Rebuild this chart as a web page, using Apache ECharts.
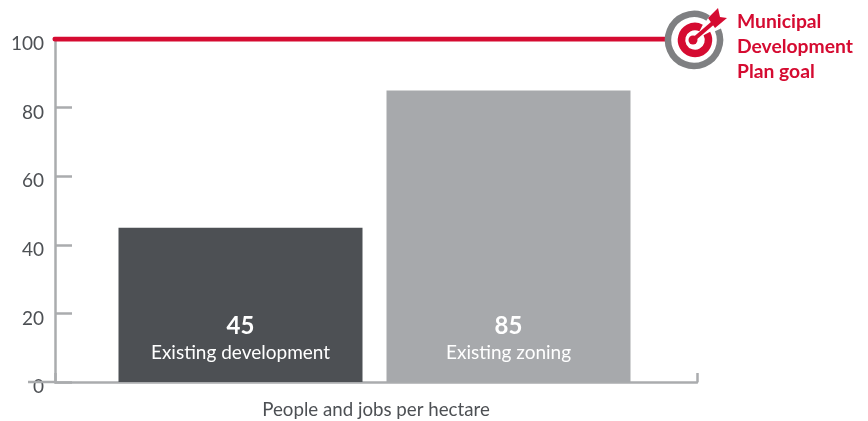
<!DOCTYPE html>
<html>
<head>
<meta charset="utf-8">
<style>html,body{margin:0;padding:0;background:#fff}#chart{width:868px;height:421px}</style>
<script src="https://cdn.jsdelivr.net/npm/echarts@6/dist/echarts.min.js"></script>
</head>
<body>
<div id="chart"></div>
<script>
// Density figures, people and jobs per hectare
const categories = ['Existing development', 'Existing zoning'];
const densityValues = [45, 85];
const goalValue = 100;
const goalLabel = ['Municipal', 'Development', 'Plan goal'];
const axisTitle = 'People and jobs per hectare';
const yTicks = { min: 0, max: 100, interval: 20 };

const FONT = 'Lato, "Noto Sans", sans-serif';
const AXIS_GREY = '#aaacae';
const TEXT_GREY = '#4d5054';
const GOAL_RED = '#d50b31';
const BAR_COLORS = ['#4d5054', '#a7a9ac'];

const chart = echarts.init(document.getElementById('chart'), null, { renderer: 'canvas' });

chart.setOption({
  animation: false,
  backgroundColor: '#fff',
  grid: [
    { left: 55, right: 171, top: 39, bottom: 39, outerBoundsMode: 'none' },      // frame with the value scale
    { left: 106.5, right: 225.5, top: 39, bottom: 39, outerBoundsMode: 'none' }  // tighter band layout for the bars
  ],
  xAxis: [
    {
      type: 'value', gridIndex: 0, min: 0, max: 1, interval: 1,
      name: axisTitle, nameLocation: 'middle', nameGap: 18,
      nameTextStyle: { fontFamily: FONT, fontSize: 18.7, color: TEXT_GREY },
      axisLine: { show: true, lineStyle: { color: AXIS_GREY, width: 2.5 } },
      axisTick: { show: true, inside: true, length: 9, lineStyle: { color: AXIS_GREY, width: 2.5 } },
      axisLabel: { show: false },
      splitLine: { show: false }
    },
    {
      type: 'category', gridIndex: 1, data: categories,
      axisLine: { show: false }, axisTick: { show: false }, axisLabel: { show: false }
    }
  ],
  yAxis: [
    {
      type: 'value', gridIndex: 0, ...yTicks,
      axisLine: { show: true, lineStyle: { color: AXIS_GREY, width: 2.5 } },
      axisTick: { show: true, inside: true, length: 17, lineStyle: { color: AXIS_GREY, width: 2.5 } },
      axisLabel: {
        fontFamily: FONT, fontSize: 19, color: TEXT_GREY, margin: 11,
        verticalAlign: 'top', lineHeight: 10
      },
      splitLine: { show: false }
    },
    {
      type: 'value', gridIndex: 1, ...yTicks, show: false, splitLine: { show: false }
    }
  ],
  series: [
    {
      type: 'bar', xAxisIndex: 1, yAxisIndex: 1, barWidth: 244, z: 3,
      data: densityValues.map((v, i) => ({
        value: v,
        itemStyle: { color: BAR_COLORS[i] },
        label: {
          show: true, position: 'insideBottom', distance: 16,
          formatter: '{v|' + v + '}\n{c|' + categories[i] + '}',
          rich: {
            v: { fontFamily: FONT, fontSize: 24, fontWeight: 'bold', color: '#fff', lineHeight: 28, align: 'center' },
            c: { fontFamily: FONT, fontSize: 19, color: '#fff', lineHeight: 26, align: 'center' }
          }
        }
      }))
    },
    {
      type: 'line', xAxisIndex: 0, yAxisIndex: 0, z: 4, symbol: 'none',
      lineStyle: { color: GOAL_RED, width: 5, cap: 'round' },
      data: [[0, goalValue], [0.95, goalValue]]
    }
  ],
  graphic: [
    // tail of the zero tick, left of the vertical axis
    { type: 'line', z: 2, shape: { x1: 28, y1: 382, x2: 55, y2: 382 }, style: { stroke: AXIS_GREY, lineWidth: 2.5 } },
    // target icon: outer ring, inner ring, bullseye, dart
    { type: 'arc', z: 5, shape: { cx: 694, cy: 40, r: 26, startAngle: -0.4, endAngle: -1.0 + Math.PI * 2, clockwise: true }, style: { stroke: '#7f8082', lineWidth: 6.5, fill: null } },
    { type: 'arc', z: 5, shape: { cx: 695, cy: 40, r: 13.5, startAngle: -0.5, endAngle: -1.1 + Math.PI * 2, clockwise: true }, style: { stroke: GOAL_RED, lineWidth: 7.5, fill: null } },
    { type: 'circle', z: 5, shape: { cx: 693, cy: 40, r: 4.5 }, style: { fill: GOAL_RED } },
    { type: 'line', z: 5, shape: { x1: 693, y1: 40, x2: 714, y2: 22 }, style: { stroke: GOAL_RED, lineWidth: 4 } },
    { type: 'polygon', z: 5, shape: { points: [[708, 18], [718, 8], [720, 17], [727, 18], [715, 28]] }, style: { fill: GOAL_RED } },
    // goal caption
    {
      type: 'text', z: 5, x: 737, y: 9,
      style: {
        text: goalLabel.join('\n'), fontFamily: FONT, fontSize: 19.3, fontWeight: 'bold',
        fill: GOAL_RED, lineHeight: 25
      }
    }
  ]
});
</script>
</body>
</html>
